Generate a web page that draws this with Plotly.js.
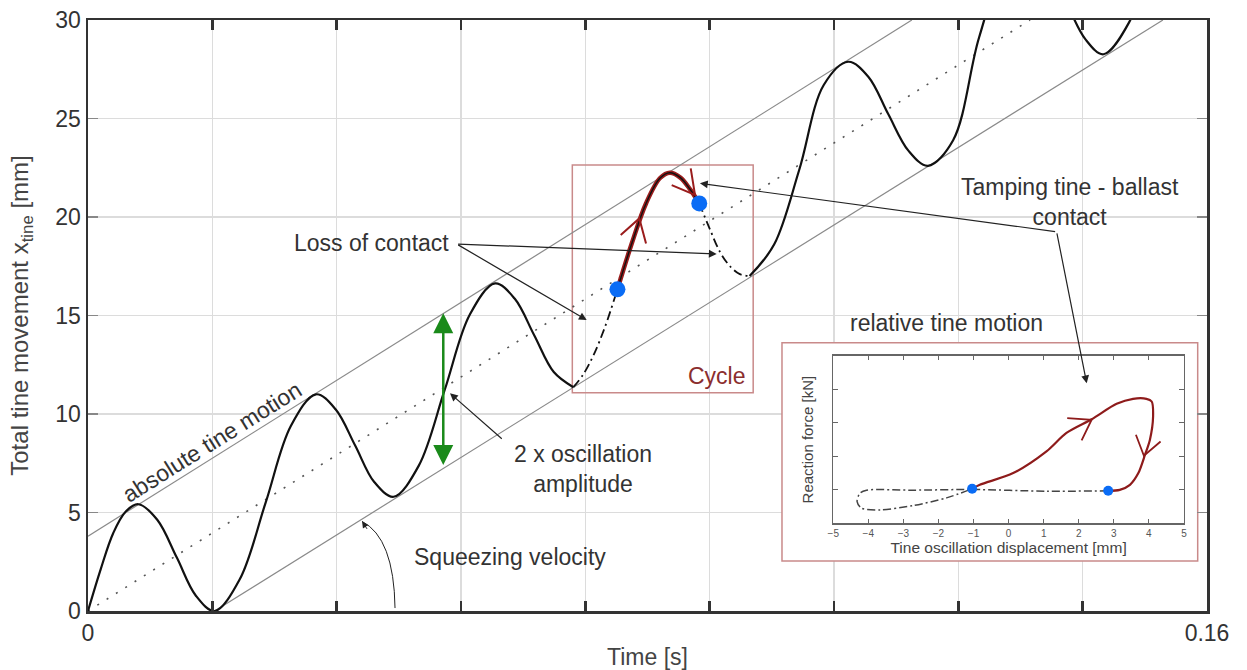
<!DOCTYPE html>
<html>
<head>
<meta charset="utf-8">
<script src="https://cdn.plot.ly/plotly-3.0.1.min.js"></script>
<style>html,body{margin:0;padding:0;background:#fff;}#chart{width:1247px;height:670px;}</style>
</head>
<body>
<div id="chart"></div>
<script>
// ---- main chart data (time [s], total tine movement [mm]) ----
const contactT1 = [0, 0.0018, 0.0036, 0.0054, 0.0072, 0.0099, 0.0127, 0.0154, 0.0181, 0.0217, 0.0254, 0.0290, 0.0326, 0.0354, 0.0382, 0.0409, 0.0437, 0.0473, 0.0510, 0.0546, 0.0582, 0.0610, 0.0638, 0.0666, 0.0694];
const contactY1 = [0, 2.10, 3.95, 5.05, 5.42, 4.63, 2.71, 0.79, 0.0, 1.61, 5.50, 9.39, 11.0, 10.24, 8.40, 6.56, 5.80, 7.38, 11.22, 15.05, 16.63, 15.86, 14.00, 12.13, 11.36];
const loss1T = [0.0694, 0.0708, 0.0723, 0.0739, 0.0757];
const loss1Y = [11.36, 12.0, 13.0, 14.4, 16.33];
const cycleT = [0.0757, 0.0777, 0.0798, 0.0818, 0.0832, 0.0847, 0.0861, 0.0874];
const cycleY = [16.33, 18.6, 20.7, 21.98, 22.25, 22.0, 21.4, 20.69];
const loss2T = [0.0874, 0.0889, 0.0904, 0.0918, 0.0932, 0.0946];
const loss2Y = [20.69, 19.4, 18.2, 17.5, 17.1, 17.0];
const contactT2 = [0.0946, 0.0981, 0.1017, 0.1052, 0.1087, 0.1116, 0.1144, 0.1173, 0.1201, 0.1237, 0.1274, 0.1310, 0.1346, 0.1373, 0.1399, 0.1426, 0.1452, 0.1488, 0.1525, 0.1561, 0.1597];
const contactY2 = [17.0, 18.6, 22.4, 26.7, 27.88, 27.11, 25.24, 23.37, 22.6, 23.9, 29.1, 32.6, 33.6, 32.73, 30.88, 29.03, 28.26, 29.84, 33.68, 37.5, 39.1];
const contactPtsT = [0.0757, 0.0874];
const contactPtsY = [16.33, 20.69];
const midT = [0, 0.1347];
const midY = [0, 30];
const upperT = [0, 0.1178];
const upperY = [3.8, 30];
const lowerT = [0.0181, 0.1537];
const lowerY = [0, 30];
const xTickVals = [0, 0.01778, 0.03556, 0.05333, 0.07111, 0.08889, 0.10667, 0.12444, 0.14222, 0.16];
const xTickText = ['0', '', '', '', '', '', '', '', '', '0.16'];
const yTickVals = [0, 5, 10, 15, 20, 25, 30];

// ---- inset data (tine oscillation displacement [mm], reaction force) ----
const insetContactX = [-1.04, -0.82, 0.13, 1.08, 1.65, 2.37, 3.08, 3.55, 3.93, 4.08, 4.12, 4.03, 3.89, 3.70, 3.46, 3.17, 2.84];
const insetContactY = [0.03, 0.15, 0.50, 1.15, 1.70, 2.11, 2.57, 2.72, 2.72, 2.64, 2.19, 1.50, 1.05, 0.50, 0.15, 0.0, -0.03];
const insetLossX = [2.84, 1.08, -1.04, -2.72, -4.05, -4.24, -4.32, -4.19, -3.67, -2.72, -1.77, -1.04];
const insetLossY = [-0.03, -0.04, 0.01, -0.01, -0.01, -0.10, -0.35, -0.55, -0.60, -0.47, -0.24, 0.03];
const insetPtsX = [-1.04, 2.84];
const insetPtsY = [0.03, -0.03];
const insetXTicks = [-5, -4, -3, -2, -1, 0, 1, 2, 3, 4, 5];
const insetYTicks = [0, 1, 2, 3];

const FONT = '"Liberation Sans", Arial, sans-serif';
const DARK = '#333333';
const RED = '#9a1c1c';
const BLUE = '#0a6cf5';
const FS = 23;

const traces = [
  {x: upperT, y: upperY, mode: 'lines', line: {color: '#8a8a8a', width: 1.2}},
  {x: lowerT, y: lowerY, mode: 'lines', line: {color: '#8a8a8a', width: 1.2}},
  {x: midT, y: midY, mode: 'lines', line: {color: '#555', width: 1.6, dash: '2px,9px'}},
  {x: contactT1, y: contactY1, mode: 'lines', line: {color: '#111', width: 2.2, shape: 'spline', smoothing: 1}},
  {x: loss1T, y: loss1Y, mode: 'lines', line: {color: '#111', width: 1.8, shape: 'spline', dash: '9px,4px,2px,4px'}},
  {x: cycleT, y: cycleY, mode: 'lines', line: {color: RED, width: 4.5, shape: 'spline'}},
  {x: cycleT, y: cycleY, mode: 'lines', line: {color: '#111', width: 1.4, shape: 'spline'}},
  {x: loss2T, y: loss2Y, mode: 'lines', line: {color: '#111', width: 1.8, shape: 'spline', dash: '9px,4px,2px,4px'}},
  {x: contactT2, y: contactY2, mode: 'lines', line: {color: '#111', width: 2.2, shape: 'spline', smoothing: 1}},
  {x: contactPtsT, y: contactPtsY, mode: 'markers', marker: {color: BLUE, size: 16}},
  // inset
  {x: insetLossX, y: insetLossY, xaxis: 'x2', yaxis: 'y2', mode: 'lines', line: {color: '#444', width: 1.5, shape: 'spline', smoothing: 0.8, dash: '8px,3px,2px,3px'}},
  {x: insetContactX, y: insetContactY, xaxis: 'x2', yaxis: 'y2', mode: 'lines', line: {color: '#8e1b1b', width: 2.2, shape: 'spline', smoothing: 0.8}},
  {x: insetPtsX, y: insetPtsY, xaxis: 'x2', yaxis: 'y2', mode: 'markers', marker: {color: BLUE, size: 10}}
];

const txt = (x, y, text, extra) => Object.assign({x: x, y: y, xref: 'x', yref: 'y', text: text, showarrow: false,
  font: {family: FONT, size: FS, color: DARK}}, extra || {});
const arr = (x, y, ax, ay, extra) => Object.assign({x: x, y: y, ax: ax, ay: ay, xref: 'x', yref: 'y', axref: 'x', ayref: 'y',
  text: '', showarrow: true, arrowhead: 2, arrowsize: 1.3, arrowwidth: 1.2, arrowcolor: '#222', standoff: 0, startstandoff: 0}, extra || {});

const annotations = [
  txt(0.04047, 18.68, 'Loss of contact'),
  arr(0.07131, 14.77, 0.05271, 18.63),
  arr(0.08989, 18.12, 0.05271, 18.63),
  txt(0.0708, 7.2, '2 x oscillation<br>amplitude', {align: 'center'}),
  arr(0.05176, 11.05, 0.05938, 8.68),
  txt(0.06027, 2.74, 'Squeezing velocity'),
  txt(0.0177, 8.59, 'absolute tine motion', {textangle: -32}),
  txt(0.1404, 20.76, 'Tamping tine - ballast<br>contact', {align: 'center'}),
  arr(0.0875, 21.71, 0.1385, 19.25),
  arr(0.1428, 11.56, 0.1385, 19.25),
  txt(0.1228, 14.62, 'relative tine motion'),
  txt(0.0899, 11.93, 'Cycle', {font: {family: FONT, size: FS, color: '#8b2e2e'}}),
  {x: 0.0508, y: 15.11, ax: 0.0508, ay: 7.33, xref: 'x', yref: 'y', axref: 'x', ayref: 'y', text: '', showarrow: true,
   arrowside: 'end+start', arrowhead: 2, arrowsize: 1.6, arrowwidth: 2.5, arrowcolor: '#1a8a1a', standoff: 0, startstandoff: 0},
  {x: 0.03918, y: 4.55, ax: 6, ay: 9, xref: 'x', yref: 'y', text: '', showarrow: true, arrowhead: 2, arrowsize: 1.3, arrowwidth: 1, arrowcolor: '#222', standoff: 0}
];

const shapes = [
  {type: 'rect', xref: 'x', yref: 'y', x0: 0.09923, x1: 0.15867, y0: 2.538, y1: 13.62, fillcolor: '#ffffff', line: {color: '#c98a8a', width: 1.5}, layer: 'between'},
  {type: 'rect', xref: 'x', yref: 'y', x0: 0.06925, x1: 0.09511, y0: 11.08, y1: 22.64, line: {color: '#c98a8a', width: 1.5}, layer: 'between'},
  {type: 'path', xref: 'x', yref: 'y', path: 'M 0.04390,0.15 Q 0.04375,3.71 0.03918,4.55', line: {color: '#222', width: 1}},
  {type: 'path', xref: 'x', yref: 'y', path: 'M 0.07617,19.09 L 0.07883,19.93 L 0.07979,18.66', line: {color: RED, width: 2}},
  {type: 'path', xref: 'x', yref: 'y', path: 'M 0.08346,21.62 L 0.08679,21.12 L 0.08618,22.47', line: {color: RED, width: 2}},
  {type: 'path', xref: 'x2', yref: 'y2', path: 'M 1.671,2.145 L 2.367,2.094 L 2.082,1.475', line: {color: '#8e1b1b', width: 1.8}},
  {type: 'path', xref: 'x2', yref: 'y2', path: 'M 3.630,1.645 L 3.858,1.017 L 4.334,1.445', line: {color: '#8e1b1b', width: 1.8}}
];

const layout = {
  width: 1247, height: 670, autosize: false,
  margin: {l: 88, r: 40, t: 20, b: 59},
  paper_bgcolor: '#ffffff', plot_bgcolor: '#ffffff',
  showlegend: false, hovermode: false,
  font: {family: FONT, color: DARK},
  xaxis: {
    range: [0, 0.16], domain: [0, 1], tickmode: 'array', tickvals: xTickVals, ticktext: xTickText,
    showgrid: true, gridcolor: '#dcdcdc', gridwidth: 1.5, zeroline: false,
    showline: true, linecolor: '#333', linewidth: 2.5, mirror: 'allticks',
    ticks: 'inside', ticklen: 10, tickwidth: 2.5, tickcolor: '#333',
    tickfont: {family: FONT, size: FS, color: DARK},
    title: {text: 'Time [s]', font: {family: FONT, size: FS, color: '#444'}, standoff: 4}
  },
  yaxis: {
    range: [0, 30], domain: [0, 1], tickmode: 'array', tickvals: yTickVals,
    showgrid: true, gridcolor: '#dcdcdc', gridwidth: 1.5, zeroline: false,
    showline: true, linecolor: '#333', linewidth: 2.5, mirror: 'allticks',
    ticks: 'inside', ticklen: 10, tickwidth: 1.5, tickcolor: '#888',
    tickfont: {family: FONT, size: FS, color: DARK},
    title: {text: 'Total tine movement x<sub>tine</sub> [mm]', font: {family: FONT, size: 24, color: '#444'}, standoff: 20}
  },
  xaxis2: {
    anchor: 'y2', domain: [0.666, 0.9794], range: [-5, 5], tickmode: 'array', tickvals: insetXTicks,
    showgrid: false, zeroline: false, showline: true, linecolor: '#666', linewidth: 1.5, mirror: 'allticks',
    ticks: 'inside', ticklen: 4, tickwidth: 1, tickcolor: '#666',
    tickfont: {family: FONT, size: 10, color: '#555'},
    title: {text: 'Tine oscillation displacement [mm]', font: {family: FONT, size: 15.5, color: '#444'}, standoff: 3}
  },
  yaxis2: {
    anchor: 'x2', domain: [0.1484, 0.4315], range: [-1, 4], tickmode: 'array', tickvals: insetYTicks,
    showticklabels: false, showgrid: false, zeroline: false, showline: true, linecolor: '#666', linewidth: 1.5, mirror: 'allticks',
    ticks: 'inside', ticklen: 5, tickwidth: 1, tickcolor: '#666',
    title: {text: 'Reaction force [kN]', font: {family: FONT, size: 15, color: '#444'}, standoff: 14}
  },
  annotations: annotations,
  shapes: shapes
};

Plotly.newPlot('chart', traces, layout, {displayModeBar: false, staticPlot: true});
</script>
</body>
</html>
